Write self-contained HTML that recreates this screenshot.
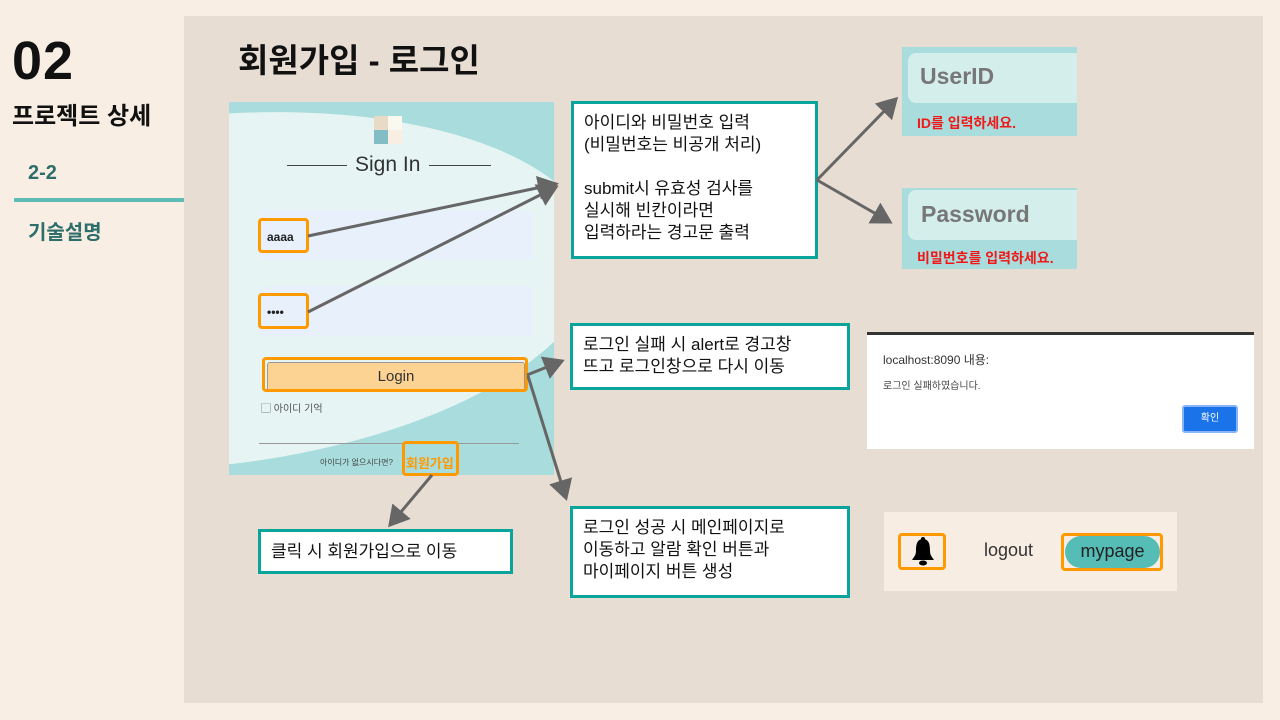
<!DOCTYPE html>
<html><head><meta charset="utf-8"><style>
*{margin:0;padding:0;box-sizing:border-box}
body{width:1280px;height:720px;background:#f8eee4;position:relative;overflow:hidden;font-family:"Liberation Sans","Noto Sans CJK KR",sans-serif}
.a{position:absolute}
.box{position:absolute;background:#fff;border:3px solid #0aa59a;font-size:17px;line-height:22px;color:#111;padding:8px 10px}
.ob{position:absolute;border:3px solid #f90;border-radius:4px}
</style></head><body>
<div class="a" style="left:184px;top:16px;width:1079px;height:687px;background:#e8ddd2"></div>
<div class="a" style="left:12px;top:30px;font-size:54px;font-weight:bold;color:#111;letter-spacing:1px">02</div>
<div class="a" style="left:12px;top:96px;font-size:24px;font-weight:bold;color:#111">프로젝트 상세</div>
<div class="a" style="left:28px;top:162px;font-size:20px;color:#2e6e6a;font-weight:bold">2-2</div>
<div class="a" style="left:14px;top:198px;width:170px;height:4px;background:#5fbcb6"></div>
<div class="a" style="left:28px;top:216px;font-size:20px;color:#2e6e6a;font-weight:bold">기술설명</div>
<div class="a" style="left:238px;top:34px;font-size:33px;font-weight:bold;color:#111">회원가입 - 로그인</div>

<!-- login screenshot -->
<div class="a" style="left:229px;top:102px;width:325px;height:373px;background:#a9dcdc;overflow:hidden">
 <div class="a" style="left:-420px;top:14px;width:790px;height:350px;border-radius:50%;background:#e6f5f4;transform:rotate(-6deg)"></div>
 <div class="a" style="left:145px;top:14px;width:14px;height:14px;background:#e8dac6"></div>
 <div class="a" style="left:159px;top:14px;width:14px;height:14px;background:#fbf8f0"></div>
 <div class="a" style="left:145px;top:28px;width:14px;height:14px;background:#82bcc4"></div>
 <div class="a" style="left:159px;top:28px;width:14px;height:14px;background:#f8eee2"></div>
 <div class="a" style="left:58px;top:63px;width:60px;height:1px;background:#444"></div>
 <div class="a" style="left:200px;top:63px;width:62px;height:1px;background:#444"></div>
 <div class="a" style="left:126px;top:51px;font-size:21px;color:#333">Sign In</div>
 <div class="a" style="left:30px;top:108px;width:274px;height:50px;background:#e8f0fc;border-radius:4px"></div>
 <div class="a" style="left:30px;top:184px;width:274px;height:50px;background:#e8f0fc;border-radius:4px"></div>
 <div class="a" style="left:38px;top:128px;font-size:12px;font-weight:bold;color:#222">aaaa</div>
 <div class="a" style="left:38px;top:203px;font-size:12px;font-weight:bold;color:#222">••••</div>
 <div class="a" style="left:38px;top:260px;width:258px;height:29px;background:#fdd394;border:1px solid #999;border-radius:3px;text-align:center;font-size:15px;line-height:27px;color:#333">Login</div>
 <div class="a" style="left:32px;top:298px;font-size:10px;color:#555">▢ 아이디 기억</div>
 <div class="a" style="left:30px;top:341px;width:260px;height:1px;background:#999"></div>
 <div class="a" style="left:91px;top:355px;font-size:8px;color:#444">아이디가 없으시다면?</div>
 <div class="a" style="left:177px;top:351px;font-size:13px;color:#f90;font-weight:bold">회원가입</div>
</div>
<div class="ob" style="left:258px;top:218px;width:51px;height:35px"></div>
<div class="ob" style="left:258px;top:293px;width:51px;height:36px"></div>
<div class="ob" style="left:262px;top:357px;width:266px;height:35px"></div>
<div class="ob" style="left:402px;top:441px;width:57px;height:35px"></div>

<!-- right screenshots -->
<div class="a" style="left:902px;top:47px;width:175px;height:89px;background:#a9dcdc;overflow:hidden">
 <div class="a" style="left:6px;top:6px;width:180px;height:50px;background:#d4eeec;border-radius:8px"></div>
 <div class="a" style="left:18px;top:16px;font-size:23px;font-weight:bold;color:#777">UserID</div>
 <div class="a" style="left:15px;top:66px;font-size:14px;font-weight:bold;color:#f01818">ID를 입력하세요.</div>
</div>
<div class="a" style="left:902px;top:188px;width:175px;height:81px;background:#a9dcdc;overflow:hidden">
 <div class="a" style="left:6px;top:2px;width:180px;height:50px;background:#d4eeec;border-radius:8px"></div>
 <div class="a" style="left:19px;top:13px;font-size:23px;font-weight:bold;color:#777">Password</div>
 <div class="a" style="left:15px;top:60px;font-size:14px;font-weight:bold;color:#f01818">비밀번호를 입력하세요.</div>
</div>
<div class="a" style="left:867px;top:332px;width:387px;height:117px;background:#fff;border-top:3px solid #333">
 <div class="a" style="left:16px;top:16px;font-size:12px;color:#333">localhost:8090 내용:</div>
 <div class="a" style="left:16px;top:42px;font-size:10px;color:#444">로그인 실패하였습니다.</div>
 <div class="a" style="left:315px;top:70px;width:56px;height:28px;background:#1a73e8;border:2px solid #8ab4f8;border-radius:3px;color:#fff;font-size:10px;text-align:center;line-height:24px">확인</div>
</div>
<div class="a" style="left:884px;top:512px;width:293px;height:79px;background:#f8ede2">
 <div class="a" style="left:100px;top:28px;font-size:18px;color:#333">logout</div>
 <div class="a" style="left:181px;top:24px;width:95px;height:32px;background:#55bcb6;border-radius:16px;font-size:18px;text-align:center;line-height:30px;color:#222">mypage</div>
 <svg class="a" style="left:27px;top:25px" width="24" height="30" viewBox="0 0 24 30"><path d="M12 2 C5 2 5 10 5 14 C5 18 3 20 1 23 L23 23 C21 20 19 18 19 14 C19 10 19 2 12 2 Z" fill="#000"/><rect x="10" y="0" width="4" height="4" rx="2" fill="#000"/><ellipse cx="12" cy="26" rx="4" ry="2.5" fill="#000"/></svg>
</div>
<div class="ob" style="left:898px;top:533px;width:48px;height:37px"></div>
<div class="ob" style="left:1061px;top:533px;width:102px;height:38px"></div>

<!-- text boxes -->
<div class="box" style="left:571px;top:101px;width:247px;height:158px">아이디와 비밀번호 입력<br>(비밀번호는 비공개 처리)<br><br>submit시 유효성 검사를<br>실시해 빈칸이라면<br>입력하라는 경고문 출력</div>
<div class="box" style="left:570px;top:323px;width:280px;height:67px">로그인 실패 시 alert로 경고창<br>뜨고 로그인창으로 다시 이동</div>
<div class="box" style="left:570px;top:506px;width:280px;height:92px">로그인 성공 시 메인페이지로<br>이동하고 알람 확인 버튼과<br>마이페이지 버튼 생성</div>
<div class="box" style="left:258px;top:529px;width:255px;height:45px;padding-top:9px">클릭 시 회원가입으로 이동</div>

<svg class="a" style="left:0;top:0" width="1280" height="720">
<defs><marker id="m" markerWidth="8" markerHeight="8" refX="6" refY="4" orient="auto" markerUnits="strokeWidth"><path d="M0,0 L7,4 L0,8 z" fill="#666"/></marker></defs>
<g stroke="#666" stroke-width="3" fill="none" marker-end="url(#m)">
<line x1="308" y1="236" x2="556" y2="184"/>
<line x1="308" y1="312" x2="556" y2="187"/>
<line x1="527" y1="375" x2="562" y2="361"/>
<line x1="528" y1="376" x2="566" y2="498"/>
<line x1="432" y1="475" x2="390" y2="525"/>
<line x1="817" y1="180" x2="896" y2="99"/>
<line x1="817" y1="180" x2="890" y2="222"/>
</g></svg>
</body></html>
